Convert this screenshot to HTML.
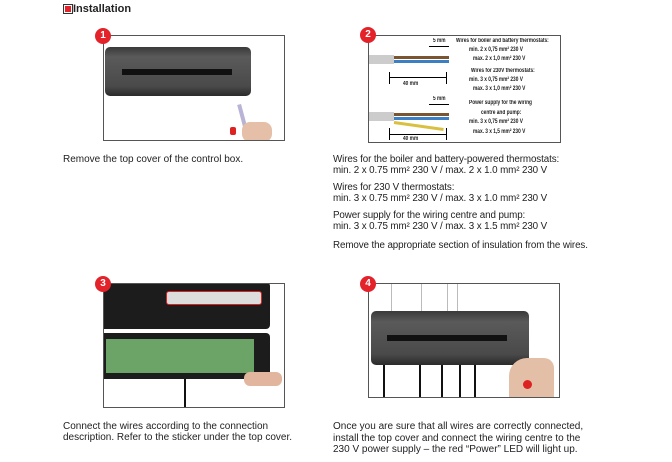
<!DOCTYPE html>
<html><head><style>
body{margin:0;width:672px;height:462px;background:#fff;position:relative;overflow:hidden;font-family:"Liberation Sans",sans-serif;color:#222}
.a{position:absolute}
.box{position:absolute;border:1.5px solid #555;background:#fff;overflow:hidden}
.num{position:absolute;width:16px;height:16px;border-radius:50%;background:#e3222a;color:#fff;font:bold 10px "Liberation Sans",sans-serif;text-align:center;line-height:16px}
.t{position:absolute;font-size:10px;line-height:10.5px;color:#222;white-space:nowrap}
.r{font-size:9.8px;letter-spacing:-0.1px}
.dev{position:absolute;background:linear-gradient(#3a3a3a,#5a5a5a 20%,#4a4a4a 80%,#2a2a2a);border-radius:5px}
.strip{position:absolute;background:#111;height:6px}
.w{font-size:6px;position:absolute;white-space:nowrap;font-weight:bold;transform:scaleX(.8);transform-origin:left}
</style></head><body>
<div class="a" style="left:63px;top:4px;width:8px;height:8px;border:1px solid #333;background:#fff"><div style="margin:1px;width:6px;height:6px;background:#e3222a"></div></div>
<div class="a" style="left:73px;top:3px;font-weight:bold;font-size:11px">Installation</div>

<!-- box 1 -->
<div class="box" style="left:103px;top:35px;width:180px;height:104px">
 <div class="dev" style="left:1px;top:11px;width:146px;height:49px"></div>
 <div class="strip" style="left:18px;top:33px;width:110px"></div>
 <div class="a" style="left:137px;top:68px;width:4px;height:30px;background:#b9b3d6;transform:rotate(-15deg)"></div>
 <div class="a" style="left:138px;top:86px;width:30px;height:20px;background:#e6bfa8;border-radius:8px"></div>
 <div class="a" style="left:126px;top:91px;width:6px;height:8px;background:#d22;border-radius:2px"></div>
</div>
<div class="num" style="left:95px;top:28px">1</div>

<!-- box 2 -->
<div class="box" style="left:368px;top:35px;width:191px;height:106px">
 <div class="a" style="left:0;top:19px;width:25px;height:9px;background:#ccc"></div>
 <div class="a" style="left:25px;top:20px;width:55px;height:3px;background:#7a5530"></div>
 <div class="a" style="left:25px;top:24px;width:55px;height:3px;background:#3b7fc4"></div>
 <div class="a" style="left:0;top:76px;width:25px;height:9px;background:#ccc"></div>
 <div class="a" style="left:25px;top:77px;width:55px;height:3px;background:#7a5530"></div>
 <div class="a" style="left:25px;top:81px;width:55px;height:3px;background:#3b7fc4"></div>
 <div class="a" style="left:25px;top:85px;width:50px;height:3px;background:#d9c040;transform:rotate(8deg);transform-origin:left"></div>
 <div class="a" style="left:20px;top:41px;width:57px;height:1px;background:#000"></div>
 <div class="a" style="left:20px;top:36px;width:1px;height:12px;background:#000"></div>
 <div class="a" style="left:77px;top:36px;width:1px;height:12px;background:#000"></div>
 <div class="w" style="left:34px;top:45px">40 mm</div>
 <div class="a" style="left:20px;top:98px;width:57px;height:1px;background:#000"></div>
 <div class="a" style="left:20px;top:92px;width:1px;height:12px;background:#000"></div>
 <div class="a" style="left:77px;top:92px;width:1px;height:12px;background:#000"></div>
 <div class="w" style="left:34px;top:100px">40 mm</div>
 <div class="w" style="left:64px;top:2px">5 mm</div>
 <div class="a" style="left:60px;top:10px;width:20px;height:1px;background:#000"></div>
 <div class="w" style="left:64px;top:60px">5 mm</div>
 <div class="a" style="left:60px;top:68px;width:20px;height:1px;background:#000"></div>
 <div class="w" style="left:87px;top:2px">Wires for boiler and battery thermostats:</div>
 <div class="w" style="left:100px;top:11px">min. 2 x 0,75 mm² 230 V</div>
 <div class="w" style="left:104px;top:20px">max. 2 x 1,0 mm² 230 V</div>
 <div class="w" style="left:102px;top:32px">Wires for 230V thermostats:</div>
 <div class="w" style="left:100px;top:41px">min. 3 x 0,75 mm² 230 V</div>
 <div class="w" style="left:104px;top:50px">max. 3 x 1,0 mm² 230 V</div>
 <div class="w" style="left:100px;top:64px">Power supply for the wiring</div>
 <div class="w" style="left:112px;top:74px">centre and pump:</div>
 <div class="w" style="left:100px;top:83px">min. 3 x 0,75 mm² 230 V</div>
 <div class="w" style="left:104px;top:93px">max. 3 x 1,5 mm² 230 V</div>
</div>
<div class="num" style="left:360px;top:27px">2</div>

<!-- box 3 -->
<div class="box" style="left:103px;top:283px;width:180px;height:123px">
 <div class="a" style="left:-4px;top:-2px;width:170px;height:47px;background:#1c1c1c;border-radius:4px"></div>
 <div class="a" style="left:62px;top:7px;width:94px;height:12px;background:#ddd;border:1.5px solid #d22;border-radius:3px"></div>
 <div class="a" style="left:-4px;top:49px;width:170px;height:46px;background:#1c1c1c;border-radius:4px"></div>
 <div class="a" style="left:2px;top:55px;width:148px;height:34px;background:#6ca468"></div>
 <div class="a" style="left:140px;top:88px;width:38px;height:14px;background:#e2b69e;border-radius:6px"></div>
 <div class="a" style="left:80px;top:95px;width:2px;height:30px;background:#111"></div>
</div>
<div class="num" style="left:95px;top:276px">3</div>

<!-- box 4 -->
<div class="box" style="left:368px;top:283px;width:190px;height:113px">
 <div class="a" style="left:22px;top:0;width:1px;height:29px;background:#bbb"></div>
 <div class="a" style="left:52px;top:0;width:1px;height:29px;background:#bbb"></div>
 <div class="a" style="left:78px;top:0;width:1px;height:29px;background:#bbb"></div>
 <div class="a" style="left:88px;top:0;width:1px;height:29px;background:#bbb"></div>
 <div class="dev" style="left:2px;top:27px;width:158px;height:54px"></div>
 <div class="strip" style="left:18px;top:51px;width:120px"></div>
 <div class="a" style="left:14px;top:81px;width:2px;height:32px;background:#111"></div>
 <div class="a" style="left:50px;top:81px;width:2px;height:32px;background:#111"></div>
 <div class="a" style="left:72px;top:81px;width:2px;height:32px;background:#111"></div>
 <div class="a" style="left:90px;top:81px;width:2px;height:32px;background:#111"></div>
 <div class="a" style="left:105px;top:81px;width:2px;height:32px;background:#111"></div>
 <div class="a" style="left:140px;top:74px;width:45px;height:40px;background:#e3bfa8;border-radius:18px 10px 0 0"></div>
 <div class="a" style="left:154px;top:96px;width:9px;height:9px;background:#d22;border-radius:50%"></div>
</div>
<div class="num" style="left:360px;top:276px">4</div>

<div class="t" style="left:63px;top:155px">Remove the top cover of the control box.</div>
<div class="t r" style="left:333px;top:155px">Wires for the boiler and battery-powered thermostats:<br>min. 2 x 0.75 mm² 230 V / max. 2 x 1.0 mm² 230 V</div>
<div class="t r" style="left:333px;top:183px">Wires for 230 V thermostats:<br>min. 3 x 0.75 mm² 230 V / max. 3 x 1.0 mm² 230 V</div>
<div class="t r" style="left:333px;top:211px">Power supply for the wiring centre and pump:<br>min. 3 x 0.75 mm² 230 V / max. 3 x 1.5 mm² 230 V</div>
<div class="t r" style="left:333px;top:241px">Remove the appropriate section of insulation from the wires.</div>
<div class="t" style="left:63px;top:421px;line-height:11px">Connect the wires according to the connection<br>description. Refer to the sticker under the top cover.</div>
<div class="t" style="left:333px;top:421px;line-height:11.5px">Once you are sure that all wires are correctly connected,<br>install the top cover and connect the wiring centre to the<br>230 V power supply – the red “Power” LED will light up.</div>
</body></html>
